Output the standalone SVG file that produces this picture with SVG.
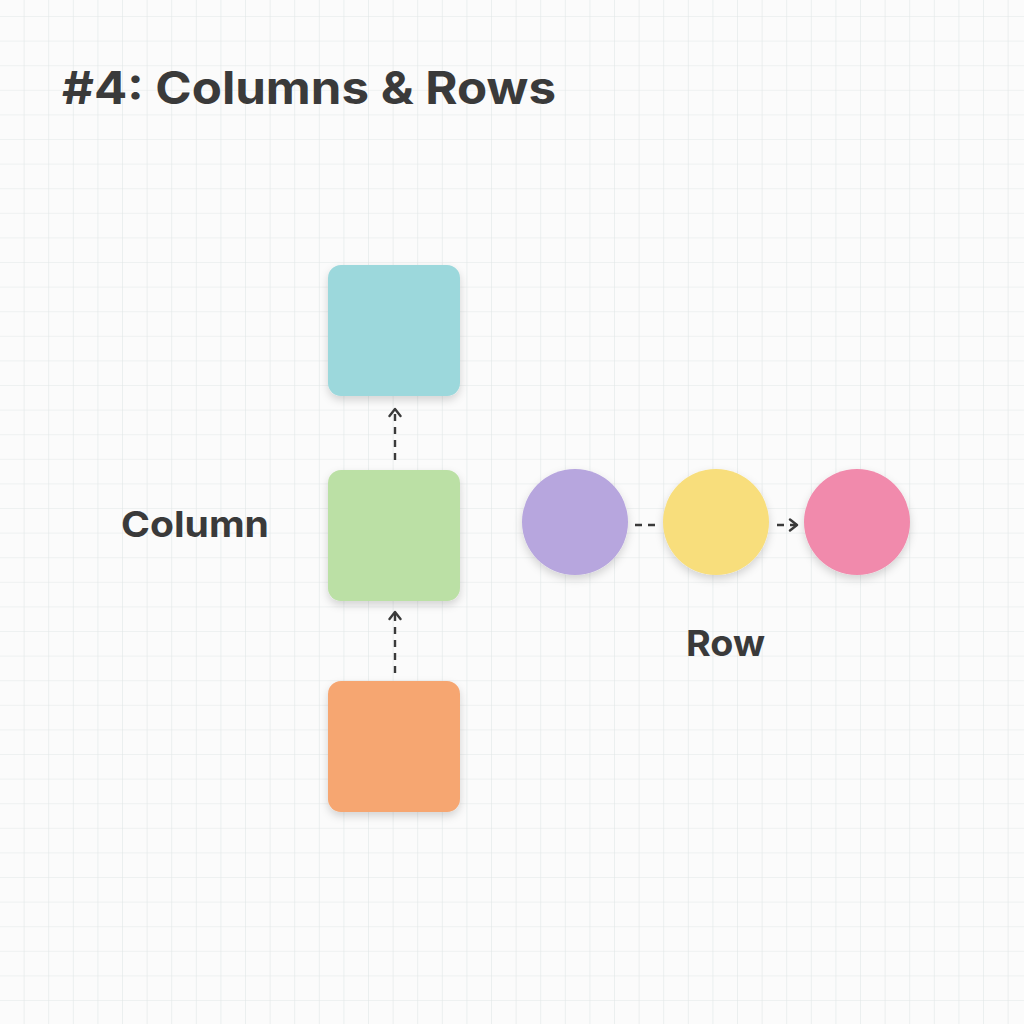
<svg xmlns="http://www.w3.org/2000/svg" width="1024" height="1024" viewBox="0 0 1024 1024">
<defs>
<pattern id="grid" x="0" y="17" width="24.6" height="24.6" patternUnits="userSpaceOnUse">
<path d="M24.6 0V24.6M0 24.6H24.6" fill="none" stroke="#e1e7e7" stroke-width="1.2"/>
</pattern>
<filter id="sh" x="-20%" y="-20%" width="140%" height="150%">
<feDropShadow dx="0" dy="4" stdDeviation="4" flood-color="#000" flood-opacity="0.16"/>
</filter>
<marker id="ah" viewBox="0 0 14 14" refX="9" refY="7" markerWidth="14" markerHeight="14" markerUnits="userSpaceOnUse" orient="auto">
<path d="M2 1.5L9 7L2 12.5" fill="none" stroke="#3a3a3a" stroke-width="2.4" stroke-linecap="round" stroke-linejoin="round"/>
</marker>
<style>
.t{font-family:Inter,"Liberation Sans",Arial,sans-serif;font-weight:bold;fill:#3a3a3a}
.c{stroke:#3a3a3a;stroke-width:2.4;stroke-dasharray:7 6;fill:none}
</style>
</defs>
<rect width="1024" height="1024" fill="#fbfbfb"/>
<rect width="1024" height="1024" fill="url(#grid)"/>
<text class="t" x="62" y="104" font-size="45" textLength="494" lengthAdjust="spacingAndGlyphs">#4: Columns &amp; Rows</text>
<text class="t" x="121" y="537" font-size="36" textLength="148" lengthAdjust="spacingAndGlyphs">Column</text>
<text class="t" x="686" y="656" font-size="36" textLength="79" lengthAdjust="spacingAndGlyphs">Row</text>
<g id="connectors">
<path class="c" d="M395 460V409" marker-end="url(#ah)"/>
<path class="c" d="M395 673V612" marker-end="url(#ah)"/>
<path class="c" d="M635 525H658"/>
<path class="c" d="M777 525H797" marker-end="url(#ah)"/>
</g>
<g id="box-top"><rect x="328" y="265" width="132" height="131" rx="13" fill="#9cd8dc" filter="url(#sh)"/></g>
<g id="box-mid"><rect x="328" y="470" width="132" height="131" rx="13" fill="#bbe0a5" filter="url(#sh)"/></g>
<g id="box-bot"><rect x="328" y="681" width="132" height="131" rx="13" fill="#f6a671" filter="url(#sh)"/></g>
<g id="circle-purple"><circle cx="575" cy="522" r="53" fill="#b7a6de" filter="url(#sh)"/></g>
<g id="circle-yellow"><circle cx="716" cy="522" r="53" fill="#f8de7c" filter="url(#sh)"/></g>
<g id="circle-pink"><circle cx="857" cy="522" r="53" fill="#f18aac" filter="url(#sh)"/></g>
</svg>
